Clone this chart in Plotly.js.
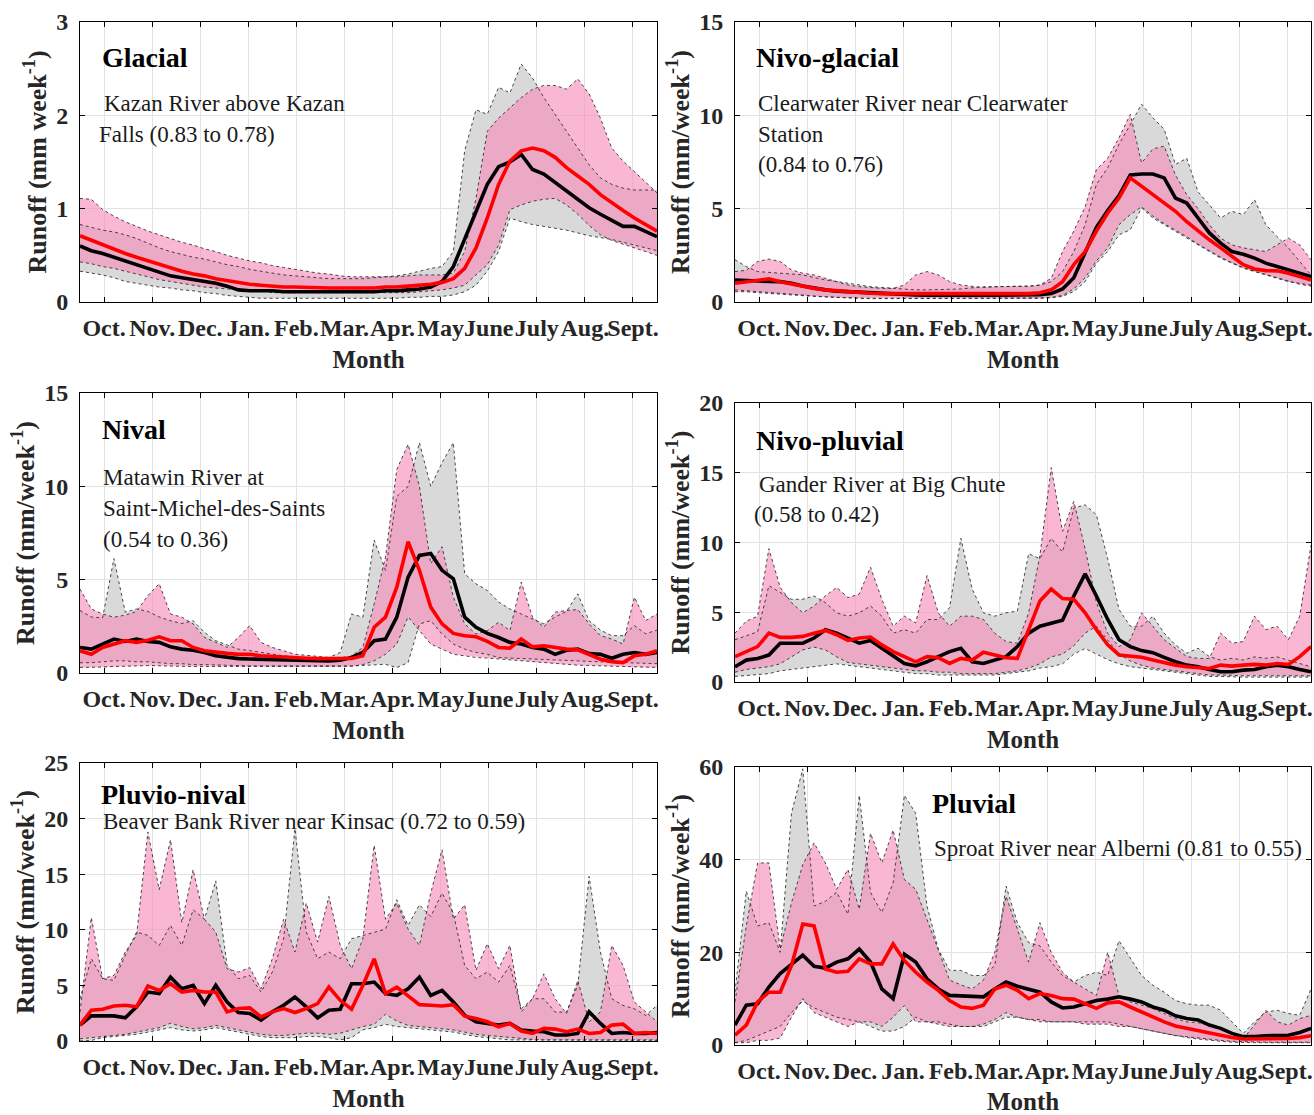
<!DOCTYPE html>
<html>
<head>
<meta charset="utf-8">
<script src="https://cdn.plot.ly/plotly-3.0.1.min.js"></script>
<style>
  html, body { margin: 0; padding: 0; background: #fff; }
  #chart { width: 1314px; height: 1115px; }
</style>
</head>
<body>
<div id="chart"></div>
<script>
// Weekly runoff regimes, water year October to September.
// obs = observed (median + min/max envelope), sim = simulated (median + min/max envelope)

const monthLabels = ['Oct.', 'Nov.', 'Dec.', 'Jan.', 'Feb.', 'Mar.', 'Apr.', 'May', 'June', 'July', 'Aug.', 'Sept.'];

// ---- Glacial: Kazan River above Kazan Falls ----
const glacialObsMed = [0.60,0.55,0.52,0.48,0.44,0.40,0.36,0.32,0.28,0.26, 0.24,0.22,0.20,0.17,0.13,0.12,0.12,0.12,0.11,0.11, 0.11,0.11,0.11,0.11,0.11,0.11,0.11,0.12,0.12,0.13, 0.14,0.16,0.22,0.38,0.68,0.97,1.26,1.45,1.50,1.58, 1.42,1.37,1.28,1.19,1.09,1.01,0.94,0.87,0.81,0.81,0.76,0.70];
const glacialSimMed = [0.71,0.66,0.61,0.56,0.52,0.48,0.44,0.40,0.36,0.33, 0.30,0.28,0.25,0.23,0.21,0.19,0.18,0.17,0.16,0.16, 0.155,0.15,0.15,0.15,0.15,0.15,0.15,0.16,0.16,0.17, 0.18,0.19,0.21,0.25,0.36,0.58,0.90,1.26,1.51,1.62, 1.65,1.62,1.55,1.44,1.35,1.26,1.15,1.06,0.98,0.90,0.83,0.76];
const glacialObsMin = [0.33,0.31,0.29,0.26,0.22,0.20,0.18,0.16,0.15,0.13, 0.12,0.10,0.09,0.07,0.06,0.05,0.04,0.04,0.04,0.04, 0.04,0.04,0.04,0.04,0.04,0.04,0.04,0.04,0.04,0.05, 0.05,0.06,0.06,0.075,0.11,0.18,0.33,0.54,0.90,0.86, 0.83,0.81,0.79,0.77,0.74,0.71,0.69,0.67,0.64,0.61,0.58,0.55];
const glacialObsMax = [0.83,0.80,0.77,0.75,0.72,0.68,0.63,0.58,0.54,0.51, 0.48,0.46,0.43,0.40,0.38,0.35,0.33,0.31,0.29,0.28, 0.27,0.26,0.25,0.25,0.25,0.25,0.26,0.27,0.28,0.30, 0.33,0.36,0.38,0.54,1.62,2.06,2.01,2.30,2.24,2.55, 2.40,2.19,2.01,1.83,1.65,1.47,1.33,1.26,1.22,1.20,1.20,1.20];
const glacialSimMin = [0.43,0.41,0.38,0.36,0.33,0.30,0.27,0.24,0.22,0.20, 0.18,0.16,0.15,0.14,0.13,0.12,0.12,0.10,0.10,0.10, 0.10,0.10,0.10,0.10,0.10,0.10,0.10,0.10,0.10,0.10, 0.11,0.12,0.13,0.15,0.18,0.29,0.40,0.61,0.99,1.04, 1.08,1.10,1.11,1.04,0.94,0.82,0.72,0.66,0.62,0.58,0.54,0.50];
const glacialSimMax = [1.11,1.10,0.99,0.92,0.86,0.81,0.76,0.72,0.68,0.64, 0.61,0.57,0.54,0.50,0.47,0.44,0.42,0.39,0.37,0.35, 0.33,0.31,0.30,0.28,0.27,0.27,0.27,0.27,0.27,0.28, 0.29,0.29,0.29,0.31,0.54,1.11,1.83,1.97,2.08,2.19, 2.28,2.32,2.32,2.28,2.39,2.23,1.97,1.65,1.51,1.40,1.29,1.17];

// ---- Nivo-glacial: Clearwater River near Clearwater Station ----
const nivoGlacialObsMed = [1.18,1.15,1.10,1.10,1.09,1.00,0.86,0.73,0.65,0.58, 0.55,0.50,0.47,0.44,0.41,0.40,0.38,0.37,0.36,0.36, 0.36,0.36,0.36,0.36,0.37,0.38,0.38,0.39,0.45,0.70, 1.30,2.60,4.00,4.90,5.70,6.80,6.86,6.86,6.65,5.57, 5.30,4.50,3.70,3.15,2.70,2.56,2.35,2.08,1.90,1.77,1.54,1.36];
const nivoGlacialSimMed = [1.00,1.09,1.18,1.24,1.09,0.97,0.82,0.73,0.65,0.60, 0.56,0.50,0.47,0.45,0.45,0.45,0.45,0.45,0.45,0.45, 0.45,0.45,0.45,0.45,0.45,0.45,0.45,0.50,0.65,1.09, 2.00,2.70,3.80,4.77,5.57,6.65,6.20,5.75,5.30,4.86, 4.30,3.80,3.33,2.90,2.44,2.00,1.77,1.68,1.67,1.54,1.36,1.18];
const nivoGlacialObsMin = [0.65,0.60,0.55,0.50,0.45,0.40,0.35,0.30,0.28,0.25, 0.22,0.20,0.18,0.18,0.18,0.18,0.18,0.18,0.18,0.18, 0.18,0.18,0.18,0.18,0.18,0.18,0.18,0.18,0.22,0.30, 0.56,1.09,2.08,2.70,3.60,3.87,5.04,4.50,4.14,3.78, 3.42,3.06,2.70,2.35,2.08,1.81,1.63,1.45,1.27,1.09,1.00,0.91];
const nivoGlacialObsMax = [2.26,1.90,1.63,1.60,1.54,1.50,1.45,1.30,1.18,1.10, 1.00,0.90,0.82,0.78,0.73,0.70,0.65,0.65,0.65,0.68, 0.70,0.75,0.82,0.82,0.82,0.82,0.85,0.90,1.09,1.63, 2.70,4.14,6.30,7.20,8.45,9.50,10.60,9.87,9.25,7.37, 7.70,5.90,5.20,4.50,4.86,4.68,5.48,4.14,3.50,2.90,2.17,1.45];
const nivoGlacialSimMin = [0.55,0.55,0.50,0.45,0.42,0.38,0.34,0.30,0.27,0.24, 0.22,0.20,0.20,0.20,0.20,0.20,0.20,0.20,0.20,0.20, 0.20,0.20,0.20,0.20,0.20,0.20,0.20,0.20,0.25,0.35, 0.70,1.30,2.20,2.90,4.14,4.68,5.10,4.60,4.20,3.87, 3.50,3.10,2.75,2.40,2.10,1.85,1.65,1.48,1.30,1.10,0.95,0.85];
const nivoGlacialSimMax = [1.63,1.70,2.17,2.30,2.17,1.72,1.54,1.45,1.27,1.09, 0.91,0.82,0.77,0.73,0.73,0.91,1.45,1.63,1.45,1.09, 0.91,0.85,0.77,0.82,0.82,0.82,0.85,0.91,1.27,2.70, 3.80,5.10,7.10,7.70,8.80,10.05,7.45,8.20,8.35,6.80, 5.75,5.00,4.14,3.42,3.06,2.90,2.80,2.70,3.06,3.42,3.06,2.26];

// ---- Nival: Matawin River at Saint-Michel-des-Saints ----
const nivalObsMed = [1.37,1.28,1.55,1.82,1.69,1.82,1.69,1.64,1.40,1.28, 1.22,1.10,0.92,0.83,0.77,0.75,0.74,0.70,0.68,0.68, 0.67,0.66,0.65,0.68,0.83,1.10,1.73,1.82,2.99,5.14, 6.30,6.40,5.50,5.05,2.99,2.45,2.12,1.90,1.64,1.55, 1.37,1.28,1.00,1.22,1.28,1.04,1.00,0.79,1.00,1.10,1.00,1.10];
const nivalSimMed = [1.19,1.00,1.37,1.55,1.73,1.64,1.76,1.94,1.73,1.73, 1.37,1.19,1.10,1.05,1.00,1.00,0.92,0.88,0.83,0.80, 0.79,0.77,0.76,0.76,0.78,0.92,2.45,2.99,4.60,7.03, 5.50,3.53,2.63,2.12,2.00,1.94,1.69,1.37,1.33,1.82, 1.40,1.46,1.37,1.28,1.24,1.00,0.74,0.61,0.56,0.92,1.00,1.19];
const nivalObsMin = [0.55,0.55,0.60,0.65,0.65,0.60,0.60,0.55,0.50,0.50, 0.45,0.45,0.42,0.40,0.40,0.38,0.38,0.36,0.35,0.35, 0.35,0.35,0.35,0.35,0.38,0.40,0.45,0.47,0.29,0.56, 2.63,2.80,2.09,1.55,1.28,1.10,1.00,0.83,0.80,0.78, 0.75,0.72,0.70,0.68,0.65,0.62,0.60,0.58,0.55,0.52,0.50,0.50];
const nivalObsMax = [3.35,3.00,2.95,6.13,3.26,3.43,3.30,3.00,2.80,2.65, 2.80,2.18,1.73,1.50,1.28,1.20,1.10,1.00,0.92,0.88, 0.83,0.83,0.83,1.10,3.16,2.99,7.12,5.50,9.46,10.00, 12.34,10.00,11.26,12.34,5.32,4.78,4.42,3.80,3.43,3.16, 2.90,2.63,3.00,3.30,4.24,2.80,2.30,2.00,2.00,2.54,2.10,2.30];
const nivalSimMin = [0.30,0.30,0.32,0.35,0.35,0.38,0.40,0.40,0.38,0.36, 0.35,0.35,0.35,0.35,0.34,0.33,0.33,0.32,0.32,0.32, 0.32,0.32,0.32,0.33,0.36,0.45,0.65,1.00,1.55,3.00, 2.27,1.55,1.28,1.00,0.92,0.83,0.80,0.75,0.70,0.65, 0.60,0.55,0.50,0.45,0.42,0.40,0.38,0.35,0.33,0.32,0.30,0.30];
const nivalSimMax = [4.50,3.43,3.16,2.99,3.10,3.30,4.15,4.78,3.16,2.99, 2.63,1.91,1.64,1.37,1.91,2.54,1.64,1.37,1.19,1.00, 0.95,0.90,0.83,0.83,0.90,1.37,3.70,6.20,10.90,12.25, 10.00,5.86,6.76,4.06,2.63,2.09,2.27,2.72,2.27,4.87, 2.99,2.45,3.26,3.35,3.40,2.63,2.00,1.82,1.55,4.06,2.81,3.16];

// ---- Nivo-pluvial: Gander River at Big Chute ----
const nivoPluvialObsMed = [1.09,1.57,1.69,1.93,2.78,2.78,2.78,3.15,3.75,3.50, 3.15,2.78,2.98,2.42,1.82,1.33,1.16,1.45,1.82,2.18, 2.42,1.45,1.33,1.57,1.82,2.54,3.50,4.00,4.19,4.43, 6.17,7.75,6.17,4.48,3.03,2.54,2.25,2.10,1.77,1.45, 1.21,1.09,0.90,0.73,0.73,0.85,0.90,1.09,1.21,1.09,0.90,0.73];
const nivoPluvialSimMed = [1.82,2.18,2.54,3.50,3.20,3.20,3.27,3.50,3.70,3.39, 2.98,3.15,3.22,2.66,2.18,1.82,1.45,1.82,1.74,1.33, 1.69,1.57,2.13,1.94,1.74,1.69,3.75,5.81,6.66,5.98, 5.93,4.96,3.75,2.66,1.94,1.86,1.77,1.57,1.38,1.21, 1.09,1.02,0.97,1.21,1.14,1.21,1.26,1.21,1.33,1.26,1.82,2.54];
const nivoPluvialObsMin = [0.40,0.45,0.50,0.60,0.80,0.90,1.00,1.10,1.20,1.30, 1.20,1.10,1.00,0.90,0.80,0.70,0.60,0.60,0.50,0.50, 0.50,0.50,0.50,0.50,0.60,0.70,0.80,1.00,1.10,1.30, 2.00,2.40,2.00,1.60,1.30,1.10,1.00,0.90,0.80,0.70, 0.60,0.50,0.40,0.40,0.35,0.35,0.35,0.35,0.35,0.35,0.35,0.35];
const nivoPluvialObsMax = [3.03,3.30,3.60,6.90,6.40,5.93,5.93,6.17,5.69,4.96, 4.72,4.96,5.45,4.72,3.50,3.75,3.50,4.48,4.48,5.33, 10.30,6.66,4.96,4.72,4.96,5.08,9.20,8.84,10.30,9.32, 12.47,12.70,11.98,8.84,5.20,4.00,4.00,4.72,3.50,2.66, 2.06,2.42,1.82,1.57,1.70,1.57,1.80,1.70,1.80,1.57,1.33,1.09];
const nivoPluvialSimMin = [0.70,0.90,1.00,1.10,1.30,1.80,2.30,2.50,2.30,1.80, 1.40,1.30,1.20,1.10,1.00,0.90,0.80,0.80,0.70,0.70, 0.60,0.60,0.60,0.60,0.70,0.80,1.00,1.30,1.80,2.00, 2.60,3.50,4.00,3.00,2.00,1.50,1.20,1.00,0.90,0.80, 0.70,0.60,0.50,0.50,0.45,0.45,0.45,0.45,0.45,0.45,0.45,0.45];
const nivoPluvialSimMax = [3.50,4.36,4.72,9.56,6.78,5.69,4.96,5.45,6.17,6.78, 6.05,6.30,8.23,5.93,4.00,4.72,4.24,7.63,4.96,4.00, 4.72,4.72,4.48,3.50,2.90,2.78,4.96,9.08,15.37,10.80, 12.95,9.56,5.69,3.50,2.54,3.03,4.96,4.00,3.03,2.42, 1.82,1.69,1.69,3.50,2.78,2.90,4.72,3.75,4.00,3.03,4.72,9.80];

// ---- Pluvio-nival: Beaver Bank River near Kinsac ----
const pluvioNivalObsMed = [1.43,2.26,2.26,2.26,2.08,3.07,4.40,4.26,5.75,4.70, 5.00,3.36,5.00,3.50,2.56,2.47,1.88,2.62,3.21,3.96, 3.07,2.08,2.77,2.86,5.15,5.15,5.30,4.26,4.10,4.70, 5.75,4.10,4.55,3.50,2.32,1.73,1.58,1.43,1.58,0.98, 0.89,0.83,0.54,0.54,0.68,2.62,1.58,0.68,0.77,0.68,0.68,0.77];
const pluvioNivalSimMed = [1.43,2.77,2.86,3.15,3.21,3.07,4.94,4.55,5.15,4.40, 4.55,4.40,4.40,2.62,2.92,2.98,2.17,2.62,2.92,2.56, 2.92,3.36,4.85,3.66,2.86,5.00,7.38,4.26,4.85,4.10, 3.27,3.21,3.15,3.27,2.23,2.02,1.73,1.28,1.58,0.89, 0.68,1.13,1.07,0.83,1.07,0.68,0.77,1.43,1.52,0.68,0.77,0.68];
const pluvioNivalObsMin = [0.00,0.05,0.30,0.40,0.50,0.60,0.80,1.00,1.20,1.00, 0.90,1.00,1.20,1.00,0.80,0.60,0.40,0.30,0.30,0.30, 0.40,0.40,0.30,0.10,0.30,1.00,1.20,1.50,1.30,1.20, 1.10,1.00,0.90,0.80,0.60,0.40,0.30,0.20,0.10,0.10, 0.10,0.10,0.05,0.05,0.05,0.05,0.05,0.05,0.05,0.05,0.05,0.05];
const pluvioNivalObsMax = [3.80,7.40,5.60,5.45,7.70,9.80,9.50,8.60,10.40,8.60, 11.80,10.95,14.40,6.80,5.60,5.90,4.40,6.20,9.20,19.10, 9.80,7.40,8.00,7.40,9.20,9.50,9.80,10.06,12.70,10.40, 12.25,11.20,13.30,11.50,6.80,5.60,6.20,5.30,6.80,2.90, 3.80,3.80,2.60,2.60,5.00,14.80,8.00,3.80,3.20,2.90,2.30,3.20];
const pluvioNivalSimMin = [0.20,0.30,0.40,0.50,0.60,0.80,1.00,1.20,1.60,1.30, 1.10,1.20,1.40,1.20,1.00,0.80,0.60,0.50,0.50,0.60, 0.70,0.70,0.60,0.70,1.00,1.30,1.50,2.40,1.80,1.40, 1.30,1.20,1.10,1.00,0.80,0.60,0.50,0.40,0.30,0.20, 0.15,0.10,0.10,0.10,0.10,0.10,0.10,0.10,0.10,0.10,0.10,0.10];
const pluvioNivalSimMax = [2.60,11.10,5.60,5.90,8.00,9.50,18.80,13.60,18.10,10.65, 15.40,10.95,9.80,6.50,6.20,6.60,4.70,7.40,10.95,8.00, 12.40,8.90,13.00,8.60,6.50,9.20,17.60,10.95,12.40,10.06, 8.60,13.30,17.20,10.95,12.25,6.35,8.75,6.50,8.60,2.62, 3.80,6.04,3.80,2.47,5.45,1.73,2.62,8.60,6.80,3.50,2.62,1.73];

// ---- Pluvial: Sproat River near Alberni ----
const pluvialObsMed = [4.3,8.6,8.9,12.5,15.4,17.5,19.4,17.0,16.6,17.9, 18.6,20.7,17.9,12.1,10.0,19.6,17.9,14.3,12.1,10.7, 10.6,10.6,10.4,12.1,13.6,12.7,12.1,11.4,9.3,8.0, 8.2,8.9,9.6,9.9,10.4,9.9,9.3,8.2,7.5,6.3, 5.7,5.4,4.3,3.6,2.5,1.8,1.8,2.0,2.0,2.1,2.7,3.6];
const pluvialSimMed = [2.1,4.3,9.3,11.4,11.4,17.1,26.1,25.7,16.4,15.7, 15.9,18.6,17.5,17.5,21.8,18.2,15.7,13.6,11.8,9.6, 8.2,7.9,8.6,12.1,12.9,11.8,10.0,11.1,10.7,10.0, 9.9,8.9,7.9,9.1,9.3,8.2,7.1,6.1,5.0,4.1, 3.6,3.0,2.5,2.0,1.6,1.3,1.3,1.4,1.4,1.4,1.6,2.0];
const pluvialObsMin = [0.5,1.0,2.0,3.0,4.0,7.0,9.5,8.0,7.0,6.0, 5.5,5.0,4.0,3.0,3.0,4.0,6.0,5.0,5.0,4.5, 4.0,4.0,4.0,5.0,6.0,6.0,5.5,5.5,5.0,5.0, 5.0,5.0,5.0,5.0,4.5,4.0,3.5,3.0,2.5,2.0, 1.8,1.5,1.2,1.0,0.8,0.7,0.6,0.6,0.6,0.6,0.6,0.6];
const pluvialObsMax = [11.4,33.2,25.7,26.4,20.0,50.0,59.6,30.0,31.0,33.0, 28.2,53.9,32.9,28.6,35.0,53.9,50.0,30.0,20.7,16.1, 16.1,15.0,15.0,17.1,34.3,26.4,22.1,21.4,17.9,15.0, 13.6,15.0,15.7,15.0,22.5,18.6,15.0,12.9,11.4,9.6, 8.9,8.6,8.6,7.5,5.0,2.5,5.0,7.1,7.5,6.8,6.4,12.1];
const pluvialSimMin = [0.5,0.5,1.0,1.0,1.5,6.0,10.0,7.0,6.0,5.0, 4.0,5.0,5.0,4.0,6.0,8.5,5.0,5.0,4.5,4.0, 4.0,4.0,4.5,5.5,7.0,6.0,5.5,5.0,5.0,5.0, 5.0,4.5,4.5,4.5,4.0,4.0,3.5,3.0,2.5,2.0, 1.6,1.3,1.0,0.8,0.6,0.5,0.5,0.5,0.5,0.5,0.5,0.5];
const pluvialSimMax = [9.3,25.7,39.3,39.3,20.7,30.7,38.9,43.6,39.3,33.6, 37.9,29.3,45.7,39.3,46.4,35.7,33.6,27.1,20.7,14.0, 13.0,12.1,14.0,20.0,32.1,25.0,17.9,26.4,20.0,15.7, 13.6,12.1,10.7,20.0,10.7,9.3,8.6,7.9,6.8,5.7, 5.0,4.8,4.3,3.6,2.5,1.4,4.3,7.5,5.0,4.3,5.7,6.4];

// Panel titles and gauging station captions
const regimeNames = ['Glacial', 'Nivo-glacial', 'Nival', 'Nivo-pluvial', 'Pluvio-nival', 'Pluvial'];
const stationLines = [
  ['Kazan River above Kazan', 'Falls (0.83 to 0.78)'],
  ['Clearwater River near Clearwater', 'Station', '(0.84 to 0.76)'],
  ['Matawin River at', 'Saint-Michel-des-Saints', '(0.54 to 0.36)'],
  ['Gander River at Big Chute', '(0.58 to 0.42)'],
  ['Beaver Bank River near Kinsac (0.72 to 0.59)'],
  ['Sproat River near Alberni (0.81 to 0.55)']
];
const yMaxima = [3, 15, 15, 20, 25, 60];
const yStep = [1, 5, 5, 5, 5, 20];

const series = [
  [glacialObsMed, glacialSimMed, glacialObsMin, glacialObsMax, glacialSimMin, glacialSimMax],
  [nivoGlacialObsMed, nivoGlacialSimMed, nivoGlacialObsMin, nivoGlacialObsMax, nivoGlacialSimMin, nivoGlacialSimMax],
  [nivalObsMed, nivalSimMed, nivalObsMin, nivalObsMax, nivalSimMin, nivalSimMax],
  [nivoPluvialObsMed, nivoPluvialSimMed, nivoPluvialObsMin, nivoPluvialObsMax, nivoPluvialSimMin, nivoPluvialSimMax],
  [pluvioNivalObsMed, pluvioNivalSimMed, pluvioNivalObsMin, pluvioNivalObsMax, pluvioNivalSimMin, pluvioNivalSimMax],
  [pluvialObsMed, pluvialSimMed, pluvialObsMin, pluvialObsMax, pluvialSimMin, pluvialSimMax]
];

// ---------------- layout geometry (pixels on a 1314 x 1115 page) ----------------
const W = 1314, H = 1115;
const FONT = 'Liberation Serif, Times New Roman, serif';
const px = v => v / W;
const py = v => 1 - v / H;

// plot boxes: [left, right, top, bottom]
const boxes = [
  [80, 657, 22, 302], [735, 1311, 22, 302],
  [80, 657, 393, 673], [735, 1311, 403, 682],
  [80, 657, 763, 1041], [735, 1311, 767, 1045]
];
// caption anchors: regime name position, then caption lines [x, y]
const captionPos = [
  { name: [100, 58], lines: [[102, 104], [97, 134]] },
  { name: [754, 58], lines: [[756, 104], [756, 134], [756, 165]] },
  { name: [100, 429], lines: [[101, 478], [101, 508], [101, 539]] },
  { name: [754, 440], lines: [[757, 484], [752, 514]] },
  { name: [99, 794], lines: [[101, 821]] },
  { name: [930, 803], lines: [[932, 848]] }
];

const GRAY_FILL = 'rgb(217,217,217)';
const PINK_FILL = 'rgba(247,138,186,0.62)';
const EDGE = { color: 'rgba(40,40,40,0.85)', width: 1, dash: 'dot' };

const traces = [];
const layout = {
  width: W, height: H,
  margin: { l: 0, r: 0, t: 0, b: 0 },
  paper_bgcolor: '#ffffff', plot_bgcolor: '#ffffff',
  showlegend: false,
  annotations: []
};

const nWeeks = glacialObsMed.length;
const weeks = glacialObsMed.map((_, i) => i);
const xEnd = nWeeks - 1;
const monthTicks = monthLabels.map((_, k) => (k + 0.5) * xEnd / monthLabels.length);

series.forEach((s, k) => {
  const [obsMed, simMed, obsMin, obsMax, simMin, simMax] = s;
  const sfx = k === 0 ? '' : String(k + 1);
  const xa = 'x' + sfx, ya = 'y' + sfx;
  const ring = weeks.concat(weeks.slice().reverse());

  traces.push({ type: 'scatter', mode: 'lines', x: ring, y: obsMax.concat(obsMin.slice().reverse()),
    fill: 'toself', fillcolor: GRAY_FILL, line: { width: 0 }, hoverinfo: 'skip', xaxis: xa, yaxis: ya });
  traces.push({ type: 'scatter', mode: 'lines', x: ring, y: simMax.concat(simMin.slice().reverse()),
    fill: 'toself', fillcolor: PINK_FILL, line: { width: 0 }, hoverinfo: 'skip', xaxis: xa, yaxis: ya });
  [obsMin, obsMax, simMin, simMax].forEach(v => {
    traces.push({ type: 'scatter', mode: 'lines', x: weeks, y: v, line: EDGE, hoverinfo: 'skip', xaxis: xa, yaxis: ya });
  });
  traces.push({ type: 'scatter', mode: 'lines', x: weeks, y: obsMed, line: { color: '#000000', width: 3.6 }, xaxis: xa, yaxis: ya, name: 'Observed' });
  traces.push({ type: 'scatter', mode: 'lines', x: weeks, y: simMed, line: { color: '#ff0000', width: 3.6 }, xaxis: xa, yaxis: ya, name: 'Simulated' });

  const [l, r, t, b] = boxes[k];
  const yTickFont = { family: FONT, size: 24, color: '#262626', weight: 'bold' };
  const xTickFont = { family: FONT, size: 24, color: '#262626', weight: 'bold' };
  layout['xaxis' + sfx] = {
    domain: [px(l), px(r)], anchor: ya,
    range: [0, xEnd], tickmode: 'array', tickvals: monthTicks, ticktext: monthLabels,
    tickangle: 0,
    ticks: 'inside', ticklen: 5, tickwidth: 1, tickcolor: '#000',
    showline: true, linecolor: '#000', linewidth: 1, mirror: 'ticks',
    showgrid: true, gridcolor: '#e2e2e2', gridwidth: 1, zeroline: false,
    tickfont: xTickFont, ticklabelstandoff: 4,
    title: { text: 'Month', font: { family: FONT, size: 25, color: '#262626', weight: 'bold' }, standoff: 10 }
  };
  const yStepK = yStep[k];
  const yTicks = [];
  for (let v = 0; v <= yMaxima[k] + 1e-9; v += yStepK) yTicks.push(v);
  layout['yaxis' + sfx] = {
    domain: [py(b), py(t)], anchor: xa,
    range: [0, yMaxima[k]], tickmode: 'array', tickvals: yTicks,
    ticks: 'inside', ticklen: 5, tickwidth: 1, tickcolor: '#000',
    showline: true, linecolor: '#000', linewidth: 1, mirror: 'ticks',
    showgrid: true, gridcolor: '#e2e2e2', gridwidth: 1, zeroline: false,
    tickfont: yTickFont, ticklabelstandoff: 6,
    title: { text: k === 0 ? 'Runoff (mm week<sup>-1</sup>)' : 'Runoff (mm/week<sup>-1</sup>)',
      font: { family: FONT, size: 26, color: '#262626', weight: 'bold' }, standoff: 2 }
  };

  const cp = captionPos[k];
  layout.annotations.push({ xref: 'paper', yref: 'paper', x: px(cp.name[0]), y: py(cp.name[1]),
    xanchor: 'left', yanchor: 'middle', showarrow: false, text: regimeNames[k],
    font: { family: FONT, size: 28, color: '#000', weight: 'bold' } });
  stationLines[k].forEach((line, j) => {
    const p = cp.lines[j];
    layout.annotations.push({ xref: 'paper', yref: 'paper', x: px(p[0]), y: py(p[1]),
      xanchor: 'left', yanchor: 'middle', showarrow: false, text: line,
      font: { family: FONT, size: 23, color: '#1a1a1a' } });
  });
});

Plotly.newPlot('chart', traces, layout, { displayModeBar: false, staticPlot: true });
</script>
</body>
</html>
